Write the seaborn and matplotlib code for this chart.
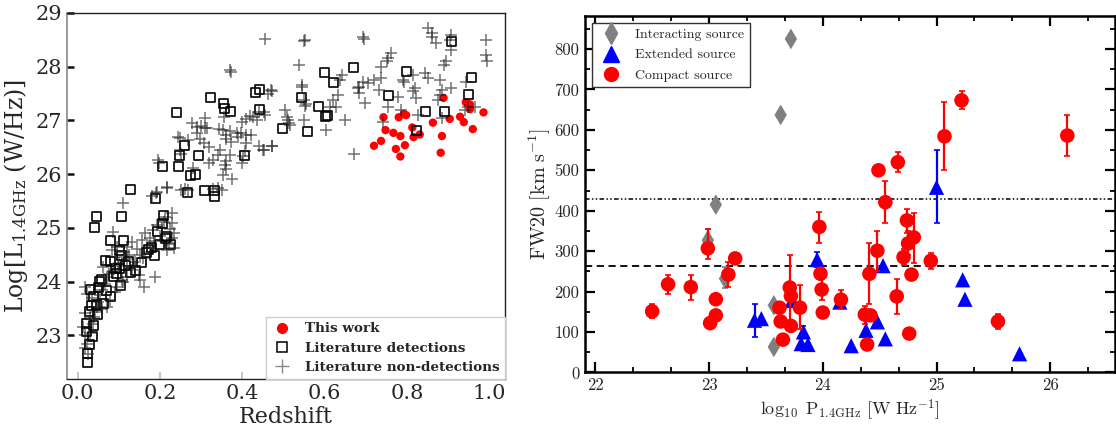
import numpy as np
import pandas as pd
import matplotlib
matplotlib.use("Agg")
import matplotlib.pyplot as plt
import seaborn as sns
from matplotlib.font_manager import FontProperties
from matplotlib.lines import Line2D
from matplotlib.ticker import MultipleLocator

# ---------------- Left panel data ----------------
this_z = [0.889, 0.743, 0.780, 0.792, 0.798, 0.748, 0.767, 0.784, 0.737, 0.720, 0.773, 0.795,
          0.784, 0.813, 0.816, 0.831, 0.863, 0.885, 0.882, 0.904, 0.929, 0.938, 0.943, 0.953,
          0.953, 0.960, 0.986]
this_L = [27.42, 27.06, 27.06, 27.12, 27.10, 26.82, 26.77, 26.71, 26.62, 26.53, 26.47, 26.54,
          26.33, 26.87, 26.69, 26.74, 26.96, 26.71, 26.40, 27.03, 27.07, 26.97, 27.34, 27.30,
          27.21, 26.84, 27.15]

det_z = [0.908, 0.670, 0.599, 0.799, 0.621, 0.958, 0.755, 0.950, 0.442, 0.431, 0.322, 0.354,
         0.356, 0.371, 0.442, 0.543, 0.585, 0.603, 0.607, 0.497, 0.559, 0.846, 0.891, 0.822,
         0.241, 0.259, 0.247, 0.245, 0.293, 0.207, 0.405, 0.287, 0.274, 0.128, 0.307, 0.332,
         0.332, 0.267, 0.190, 0.045, 0.040, 0.106, 0.209, 0.207, 0.193, 0.079, 0.111, 0.215,
         0.225, 0.180, 0.186, 0.154, 0.167, 0.199, 0.101, 0.128, 0.103, 0.067, 0.079, 0.091,
         0.107, 0.123, 0.101, 0.054, 0.032, 0.071, 0.079, 0.038, 0.062, 0.045, 0.028, 0.049,
         0.022, 0.038, 0.022, 0.036, 0.028, 0.023, 0.023, 0.087, 0.058, 0.095, 0.117, 0.140,
         0.172, 0.213, 0.033, 0.050]
det_L = [28.47, 27.99, 27.89, 27.91, 27.70, 27.80, 27.47, 27.48, 27.57, 27.52, 27.42, 27.31,
         27.23, 27.16, 27.21, 27.42, 27.26, 27.07, 27.10, 26.86, 26.79, 27.17, 27.17, 26.81,
         27.14, 26.54, 26.35, 26.14, 26.35, 26.14, 26.35, 26.00, 25.98, 25.72, 25.70, 25.69,
         25.59, 25.66, 25.54, 25.22, 25.00, 25.22, 25.24, 25.09, 24.94, 24.77, 24.76, 24.85,
         24.70, 24.63, 24.48, 24.35, 24.55, 24.69, 24.58, 24.17, 23.93, 24.40, 24.38, 24.25,
         24.48, 24.37, 24.25, 24.00, 23.86, 23.84, 23.73, 23.72, 23.60, 23.58, 23.45, 23.39,
         23.22, 23.18, 23.07, 22.99, 22.83, 22.66, 22.50, 24.09, 24.05, 24.15, 24.30, 24.20,
         24.60, 24.80, 23.55, 23.90]

non_z = [0.454, 0.549, 0.552, 0.371, 0.372, 0.538, 0.545, 0.550, 0.553, 0.550, 0.471, 0.463,
         0.503, 0.510, 0.515, 0.453, 0.455, 0.440, 0.427, 0.410, 0.400, 0.420, 0.410, 0.396,
         0.370, 0.360, 0.355, 0.451, 0.471, 0.406, 0.402, 0.400, 0.370, 0.360, 0.360, 0.357,
         0.352, 0.376, 0.345, 0.340, 0.330, 0.320, 0.319, 0.300, 0.290, 0.310, 0.315, 0.310,
         0.278, 0.343, 0.354, 0.360, 0.372, 0.298, 0.306, 0.289, 0.243, 0.248, 0.268, 0.248,
         0.252, 0.280, 0.260, 0.252, 0.268, 0.195, 0.197, 0.217, 0.190, 0.180, 0.330, 0.340,
         0.350, 0.693, 0.695, 0.851, 0.861, 0.871, 0.860, 0.908, 0.904, 0.906, 0.896, 0.890,
         0.993, 0.993, 0.995, 0.762, 0.754, 0.751, 0.737, 0.721, 0.705, 0.693, 0.684, 0.680,
         0.684, 0.697, 0.671, 0.642, 0.637, 0.632, 0.620, 0.614, 0.628, 0.650, 0.603, 0.546,
         0.554, 0.508, 0.514, 0.473, 0.469, 0.737, 0.731, 0.754, 0.741, 0.790, 0.794, 0.815,
         0.819, 0.815, 0.823, 0.843, 0.851, 0.880, 0.884, 0.880, 0.876, 0.827, 0.884, 0.908,
         0.943, 0.949, 0.941, 0.965, 0.778, 0.786, 0.436, 0.418, 0.386, 0.390, 0.410, 0.440,
         0.453,
         0.217, 0.193, 0.111, 0.087, 0.164, 0.176, 0.156, 0.184, 0.193, 0.209, 0.213, 0.229,
         0.225, 0.233, 0.229, 0.221, 0.233, 0.217, 0.168, 0.176, 0.152, 0.189, 0.160, 0.148,
         0.152, 0.140, 0.132, 0.119, 0.107, 0.095, 0.091, 0.071, 0.062, 0.083, 0.095, 0.132,
         0.119, 0.018, 0.022, 0.034, 0.054, 0.046, 0.018, 0.030, 0.014, 0.018, 0.022, 0.026,
         0.018, 0.042, 0.059, 0.079, 0.071, 0.038, 0.107, 0.119, 0.091, 0.140, 0.066, 0.075,
         0.085, 0.100, 0.113, 0.125, 0.050, 0.040, 0.060, 0.030, 0.200, 0.205, 0.185, 0.228,
         0.110, 0.098, 0.145, 0.158]
non_L = [28.51, 28.47, 28.49, 27.94, 27.91, 28.03, 27.62, 27.38, 27.27, 27.01, 27.54, 27.50,
         27.20, 27.01, 26.92, 27.16, 27.10, 27.16, 27.07, 27.03, 26.97, 26.73, 26.73, 26.76,
         26.80, 26.73, 27.07, 26.45, 26.53, 26.43, 26.33, 26.20, 26.35, 26.25, 26.10, 26.17,
         25.98, 25.91, 26.46, 26.35, 26.26, 26.20, 26.51, 26.90, 26.87, 26.86, 26.86, 27.04,
         26.96, 26.85, 26.82, 26.65, 26.60, 26.65, 26.58, 26.76, 26.70, 26.67, 26.64, 26.45,
         26.38, 26.11, 25.72, 25.70, 25.70, 26.26, 26.20, 25.74, 25.65, 25.60, 25.73, 25.75,
         25.70, 28.55, 28.51, 28.72, 28.62, 28.44, 28.55, 28.59, 28.50, 28.31, 28.10, 28.03,
         28.50, 28.22, 28.11, 28.26, 28.16, 28.10, 28.00, 27.75, 27.69, 27.72, 27.63, 27.60,
         27.51, 27.32, 26.37, 27.85, 27.75, 27.47, 27.38, 27.26, 27.26, 27.01, 26.82, 27.66,
         27.30, 27.07, 26.95, 26.53, 27.57, 27.79, 27.57, 27.26, 26.98, 27.75, 27.72, 27.85,
         27.60, 27.54, 27.41, 27.88, 27.79, 27.75, 27.57, 27.48, 27.38, 27.10, 27.04, 27.60,
         27.72, 27.26, 27.20, 27.26, 27.44, 27.20, 27.01, 27.08, 26.77, 26.70, 26.58, 26.52,
         26.46,
         25.76, 25.67, 25.46, 24.93, 24.90, 24.81, 24.77, 24.96, 25.05, 25.12, 25.21, 25.27,
         24.99, 24.90, 24.81, 24.71, 24.62, 24.59, 24.65, 24.56, 24.50, 24.08, 23.90, 24.12,
         24.03, 24.28, 24.22, 24.09, 24.03, 23.90, 23.81, 24.09, 24.28, 24.59, 24.65, 24.74,
         24.65, 23.90, 23.78, 23.69, 23.75, 23.53, 23.41, 23.32, 23.16, 23.01, 22.85, 22.66,
         22.76, 23.44, 23.50, 23.66, 23.53, 23.22, 24.40, 24.43, 24.46, 24.37, 23.95, 24.15,
         24.20, 24.35, 24.55, 24.50, 23.62, 23.35, 23.85, 23.05, 24.85, 25.00, 24.75, 25.10,
         24.00, 24.30, 24.60, 24.45]

# ---------------- Right panel data ----------------
int_P = [23.72, 23.63, 23.06, 22.99, 23.14, 23.57, 23.57]
int_fw = [825, 637, 415, 327, 232, 166, 63]
int_em = [0, 0, 0, 27, 22, 0, 0]
int_ep = [0, 0, 0, 28, 28, 0, 0]

ext_P = [25.00, 23.95, 24.53, 25.23, 25.25, 24.15, 23.73, 23.40, 23.46, 23.83, 23.81, 23.87,
         24.38, 24.48, 24.55, 24.25, 25.73]
ext_fw = [458, 279, 264, 229, 181, 174, 178, 129, 133, 100, 71, 69, 104, 125, 83, 66, 46]
ext_em = [88, 19, 0, 0, 0, 14, 12, 41, 0, 10, 0, 0, 24, 0, 0, 0, 0]
ext_ep = [92, 19, 0, 0, 0, 11, 12, 41, 0, 15, 0, 0, 26, 0, 0, 0, 0]

cmp_P = [22.50, 22.64, 22.84, 22.99, 23.01, 23.06, 23.06, 23.17, 23.23, 23.62, 23.63, 23.65,
         23.71, 23.72, 23.72, 23.80, 23.97, 23.98, 23.99, 24.00, 24.16, 24.37, 24.42, 24.41,
         24.39, 24.48, 24.49, 24.55, 24.65, 24.66, 24.71, 24.74, 24.75, 24.80, 24.78, 24.76,
         24.95, 25.07, 25.22, 25.54, 26.15]
cmp_fw = [151, 218, 211, 307, 122, 181, 141, 242, 282, 160, 126, 81, 210, 189, 115, 160, 360,
          244, 205, 148, 180, 143, 141, 244, 69, 301, 500, 421, 188, 520, 285, 376, 319, 334,
          242, 96, 276, 584, 673, 126, 586]
cmp_em = [16, 23, 31, 27, 0, 0, 0, 30, 0, 0, 0, 0, 95, 0, 0, 52, 40, 0, 25, 13, 22, 23, 0, 74,
          0, 51, 0, 51, 43, 25, 20, 31, 29, 64, 0, 0, 21, 84, 21, 18, 51]
cmp_ep = [17, 23, 31, 48, 0, 0, 0, 30, 0, 0, 0, 0, 80, 0, 0, 55, 38, 0, 30, 15, 25, 22, 0, 76,
          0, 49, 0, 53, 42, 25, 20, 29, 31, 61, 0, 0, 19, 86, 22, 19, 51]

fw_mean_line = 264
fw_limit_line = 428

# ---------------- Figure ----------------
sns.set_style("ticks")
plt.rcParams["font.family"] = ["DejaVu Serif"]

fig = plt.figure(figsize=(11.16, 4.30), dpi=100)
axL = fig.add_axes([0.060, 0.1186, 0.3928, 0.8512])
axR = fig.add_axes([0.5242, 0.1340, 0.4750, 0.8290])

# Left panel
dfN = pd.DataFrame({"z": non_z, "L": non_L})
dfD = pd.DataFrame({"z": det_z, "L": det_L})
dfT = pd.DataFrame({"z": this_z, "L": this_L})
sns.scatterplot(data=dfT, x="z", y="L", ax=axL, marker="o", s=36, color="#ff0000",
                edgecolor="none", zorder=2, legend=False)
sns.scatterplot(data=dfD, x="z", y="L", ax=axL, marker="s", s=42, facecolor="none",
                edgecolor="black", linewidth=1.2, zorder=3, legend=False)
sns.scatterplot(data=dfN, x="z", y="L", ax=axL, marker="+", s=64, color="#1a1a1a",
                alpha=0.62, linewidth=1.1, zorder=4, legend=False)

axL.set_xlim(-0.026, 1.039)
axL.set_ylim(22.19, 29.0)
axL.set_xticks([0.0, 0.2, 0.4, 0.6, 0.8, 1.0])
axL.set_yticks([23, 24, 25, 26, 27, 28, 29])
axL.tick_params(axis="both", direction="in", labelsize=15, length=5)
axL.tick_params(axis="x", color="#bbbbbb", width=1.2)
axL.tick_params(axis="y", color="#111111", width=1.8)
for s in ["top", "right", "bottom"]:
    axL.spines[s].set_color("#222222")
    axL.spines[s].set_linewidth(1.0)
axL.spines["left"].set_color("#888888")
axL.spines["left"].set_linewidth(1.2)
axL.set_xlabel("Redshift", fontsize=16, labelpad=2)
fpL = FontProperties(family="DejaVu Serif", size=17, math_fontfamily="dejavuserif")
axL.set_ylabel(r"Log[L$_{1.4\mathrm{GHz}}$ (W/Hz)]", fontproperties=fpL, labelpad=4)

hL = [Line2D([], [], marker="o", ls="none", color="#ff0000", markersize=7),
      Line2D([], [], marker="s", ls="none", mfc="none", mec="black", markersize=7, mew=1.1),
      Line2D([], [], marker="+", ls="none", color="#888888", markersize=10, mew=1.0)]
legL = axL.legend(hL, ["This work", "Literature detections", "Literature non-detections"],
                  loc="lower right", borderaxespad=0, fancybox=False, framealpha=1,
                  edgecolor="#cccccc", handletextpad=0.9, labelspacing=0.45,
                  handlelength=1.6,
                  prop=FontProperties(family="DejaVu Serif", weight="bold", size=9.7))
legL.get_frame().set_linewidth(1.0)

# Right panel
def err_draw(ax, P, fw, em, ep, color, z):
    P = np.asarray(P); fw = np.asarray(fw); em = np.asarray(em); ep = np.asarray(ep)
    m = (em + ep) > 0
    ax.errorbar(P[m], fw[m], yerr=[em[m], ep[m]], fmt="none", ecolor=color,
                elinewidth=1.6, capsize=2.5, capthick=1.2, zorder=z)

err_draw(axR, int_P, int_fw, int_em, int_ep, "#808080", 2)
sns.scatterplot(x=int_P, y=int_fw, ax=axR, marker="d", s=110, color="#808080",
                edgecolor="none", zorder=3, legend=False)
err_draw(axR, ext_P, ext_fw, ext_em, ext_ep, "#0000ff", 4)
sns.scatterplot(x=ext_P, y=ext_fw, ax=axR, marker="^", s=120, color="#0000ff",
                edgecolor="none", zorder=5, legend=False)
err_draw(axR, cmp_P, cmp_fw, cmp_em, cmp_ep, "#ff0000", 6)
sns.scatterplot(x=cmp_P, y=cmp_fw, ax=axR, marker="o", s=110, color="#ff0000",
                edgecolor="none", zorder=7, legend=False)

axR.axhline(fw_mean_line, color="black", ls=(0, (4, 2.5)), lw=1.3, zorder=1)
axR.axhline(fw_limit_line, color="black", ls=(0, (3, 1.5, 1, 1.5, 1, 1.5)), lw=1.1, zorder=1)

axR.set_xlim(21.91, 26.57)
axR.set_ylim(0, 882)
axR.xaxis.set_major_locator(MultipleLocator(1))
axR.xaxis.set_minor_locator(MultipleLocator(1 / 3))
axR.yaxis.set_major_locator(MultipleLocator(100))
axR.yaxis.set_minor_locator(MultipleLocator(50))
axR.tick_params(which="both", direction="in", top=True, right=True, color="black")
axR.tick_params(which="major", length=7, width=1.6, labelsize=12, pad=4)
axR.tick_params(which="minor", length=3.5, width=1.3)
for s in axR.spines.values():
    s.set_color("black")
    s.set_linewidth(1.8)
for lab in axR.get_xticklabels() + axR.get_yticklabels():
    lab.set_fontfamily("cmr10")
fpRx = FontProperties(family="cmr10", size=13, math_fontfamily="cm")
fpRy = FontProperties(family="cmr10", size=14.5, math_fontfamily="cm")
axR.set_xlabel(r"$\log_{10}\ \mathrm{P}_{1.4\mathrm{GHz}}\ [\mathrm{W\ Hz}^{-1}]$",
               fontproperties=fpRx, labelpad=3)
axR.set_ylabel(r"$\mathrm{FW20}\ [\mathrm{km\ s}^{-1}]$", fontproperties=fpRy, labelpad=1)

hR = [Line2D([], [], marker="d", ls="none", color="#808080", markersize=11),
      Line2D([], [], marker="^", ls="none", color="#0000ff", markersize=11),
      Line2D([], [], marker="o", ls="none", color="#ff0000", markersize=10)]
legR = axR.legend(hR, ["Interacting source", "Extended source", "Compact source"],
                  loc="upper left", fancybox=False, framealpha=1, edgecolor="#333333",
                  borderaxespad=0.5, handletextpad=0.7, labelspacing=0.55,
                  prop=FontProperties(family="cmr10", size=10))
legR.get_frame().set_linewidth(1.0)

fig.savefig("out.png", dpi=100)
